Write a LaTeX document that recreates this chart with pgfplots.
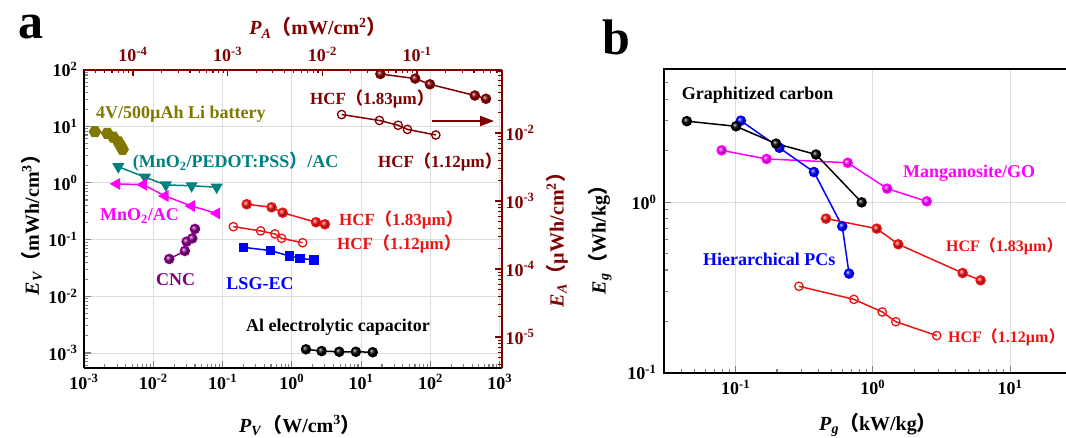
\documentclass[border=0pt]{standalone}
\usepackage{pgfplots}
\pgfplotsset{compat=1.18}
\usepackage{fontspec}
\setmainfont{Liberation Serif}
\newfontfamily\cjk{Noto Sans CJK SC}
\usetikzlibrary{arrows.meta}

\definecolor{olivec}{RGB}{128,120,0}
\definecolor{tealc}{RGB}{0,128,128}
\definecolor{purplec}{RGB}{128,0,128}
\definecolor{darkredc}{RGB}{128,0,0}
\definecolor{redc}{RGB}{235,20,20}
\definecolor{magc}{RGB}{255,0,255}
\definecolor{gridc}{RGB}{220,220,220}

\newcommand{\lp}{{\cjk （}}
\newcommand{\rp}{{\cjk ）}}
\newcommand{\rpn}{\makebox[0.45em][l]{\cjk ）}}
\newcommand{\fs}{\fontsize{18}{20}\selectfont\bfseries}
\newcommand{\fh}{\fontsize{17}{20}\selectfont\bfseries}
\newcommand{\fhb}{\fontsize{16}{20}\selectfont\bfseries}
\newcommand{\fl}{\fontsize{20}{22}\selectfont\bfseries}

\pgfdeclareplotmark{hexagon*}{%
  \pgfpathmoveto{\pgfpointpolar{0}{\pgfplotmarksize}}%
  \pgfpathlineto{\pgfpointpolar{60}{\pgfplotmarksize}}%
  \pgfpathlineto{\pgfpointpolar{120}{\pgfplotmarksize}}%
  \pgfpathlineto{\pgfpointpolar{180}{\pgfplotmarksize}}%
  \pgfpathlineto{\pgfpointpolar{240}{\pgfplotmarksize}}%
  \pgfpathlineto{\pgfpointpolar{300}{\pgfplotmarksize}}%
  \pgfpathclose\pgfusepathqfillstroke}

\pgfplotsset{
  log basis x=10, log basis y=10,
  scale only axis,
  tick align=inside,
  major tick length=7pt, minor tick length=4pt,
  tick style={line width=1.1pt},
  tick label style={font=\fs},
  xticklabel={\pgfmathtruncatemacro{\myexp}{round(\tick)}10\textsuperscript{\myexp}},
  yticklabel={\pgfmathtruncatemacro{\myexp}{round(\tick)}10\textsuperscript{\myexp}},
  axis line style={line width=2pt},
  every axis plot/.append style={line width=1.5pt},
}

\begin{document}
\begin{tikzpicture}[x=1pt,y=1pt]
\useasboundingbox (0,0) rectangle (1066,437);
\clip (0,0) rectangle (1066,437);

% ---------- panel a: bottom / left axes ----------
\begin{loglogaxis}[anchor=south west, at={(84pt,69pt)}, width=418pt, height=298.5pt,
  xmin=1e-3, xmax=1080, ymin=5.43e-4, ymax=100,
  axis x line*=bottom, axis y line*=left,
  xticklabel style={yshift=-3pt}, yticklabel style={xshift=-3pt},
  grid=major, major grid style={gridc, line width=0.8pt},
]
\addplot[color=olivec, mark=hexagon*, mark size=5.5pt] coordinates {
 (1.44e-3,8.0) (2.17e-3,7.5) (2.65e-3,6.4) (3.13e-3,5.3) (3.39e-3,4.5) (3.61e-3,3.9)};
\addplot[color=tealc, mark=triangle*, mark size=5.5pt, mark options={rotate=180}] coordinates {
 (3.13e-3,1.93) (7.6e-3,1.26) (0.0152,0.92) (0.0358,0.89) (0.0822,0.84)};
\addplot[color=magc, mark=triangle*, mark size=5.5pt, mark options={rotate=90}] coordinates {
 (2.97e-3,0.96) (7.2e-3,0.93) (0.0148,0.587) (0.0358,0.39) (0.0822,0.29)};
\addplot[color=purplec, mark=ball, mark size=4.5pt, mark options={ball color=purplec}] coordinates {
 (0.017,0.0455) (0.0286,0.063) (0.0303,0.092) (0.0366,0.105) (0.04,0.154)};
\addplot[color=redc, mark=ball, mark size=4.5pt, mark options={ball color=redc}] coordinates {
 (0.223,0.42) (0.51,0.371) (0.736,0.298) (2.23,0.202) (3.0,0.186)};
\addplot[color=redc, mark=o, mark size=4.2pt, mark options={fill=white, line width=1.3pt}] coordinates {
 (0.143,0.169) (0.355,0.142) (0.57,0.126) (0.713,0.105) (1.43,0.088)};
\addplot[color=blue, mark=square*, mark size=4pt] coordinates {
 (0.199,0.073) (0.494,0.064) (0.918,0.0514) (1.31,0.0468) (2.08,0.0437)};
\addplot[color=black, mark=ball, mark size=4.5pt, mark options={ball color=black}] coordinates {
 (1.6,1.16e-3) (2.69,1.08e-3) (4.83,1.05e-3) (8.4,1.05e-3) (14.7,1.03e-3)};
\end{loglogaxis}

% ---------- panel a: top / right axes ----------
\begin{loglogaxis}[anchor=south west, at={(84pt,69pt)}, width=418pt, height=298.5pt,
  xmin=3.04e-5, xmax=0.79, ymin=3.5e-6, ymax=0.0859,
  axis x line*=top, axis y line*=right,
  xticklabel style={yshift=4pt},
  axis line style={darkredc, line width=2pt},
  tick style={darkredc, line width=1.1pt},
  tick label style={text=darkredc},
]
\addplot[color=darkredc, mark=ball, mark size=4.5pt, mark options={ball color=darkredc}] coordinates {
 (0.0411,0.0738) (0.0957,0.0632) (0.1368,0.052) (0.408,0.0356) (0.535,0.0319)};
\addplot[color=darkredc, mark=o, mark size=4.2pt, mark options={fill=white, line width=1.3pt}] coordinates {
 (0.016,0.0187) (0.0401,0.0153) (0.0632,0.013) (0.0793,0.0113) (0.158,0.00935)};
\end{loglogaxis}

% ---------- panel b ----------
\begin{loglogaxis}[anchor=south west, at={(664pt,64.3pt)}, width=411.5pt, height=303.4pt,
  xmin=0.03, xmax=30, ymin=0.1, ymax=6,
  tick pos=left,
  xticklabel style={yshift=-4pt}, yticklabel style={xshift=-4pt},
  grid=major, major grid style={gridc, line width=0.8pt},
]
\addplot[color=magc, mark=ball, mark size=4.5pt, mark options={ball color=magc}] coordinates {
 (0.079,2.01) (0.168,1.79) (0.655,1.70) (1.27,1.20) (2.47,1.01)};
\addplot[color=blue, mark=ball, mark size=4.5pt, mark options={ball color=blue}] coordinates {
 (0.109,3.0) (0.208,2.08) (0.372,1.50) (0.598,0.721) (0.67,0.381)};
\addplot[color=black, mark=ball, mark size=4.5pt, mark options={ball color=black}] coordinates {
 (0.044,2.98) (0.1005,2.78) (0.197,2.2) (0.385,1.90) (0.828,0.996)};
\addplot[color=redc, mark=ball, mark size=4.5pt, mark options={ball color=redc}] coordinates {
 (0.455,0.80) (1.066,0.699) (1.53,0.566) (4.51,0.384) (6.1,0.348)};
\addplot[color=redc, mark=o, mark size=4.2pt, mark options={fill=white, line width=1.3pt}] coordinates {
 (0.289,0.321) (0.728,0.269) (1.17,0.227) (1.47,0.199) (2.92,0.165)};
\end{loglogaxis}

% ---------- annotations ----------
\draw[darkredc, line width=2pt, -{Triangle[length=14pt,width=10pt]}] (431.7,316) -- (494,316);

\node[anchor=base west, inner sep=0, font=\fontsize{50}{50}\selectfont\bfseries] at (18,398) {a};
\node[anchor=base west, inner sep=0, font=\fontsize{50}{50}\selectfont\bfseries] at (602,382) {b};

\node[anchor=base west, inner sep=0, font=\fs, text=olivec] at (96,318) {4V/500\textmu Ah Li battery};
\node[anchor=base west, inner sep=0, font=\fs, text=tealc] at (132.6,269.3) {(MnO\textsubscript{2}/PEDOT:PSS\rp/AC};
\node[anchor=base west, inner sep=0, font=\fs, text=magc] at (99.9,216) {MnO\textsubscript{2}/AC};
\node[anchor=base, inner sep=0, font=\fs, text=purplec] at (175.6,151.7) {CNC};
\node[anchor=base, inner sep=0, font=\fs, text=blue] at (260,147) {LSG-EC};
\node[anchor=base, inner sep=0, font=\fh, text=redc] at (401,211) {HCF\lp1.83\textmu m\rp};
\node[anchor=base, inner sep=0, font=\fh, text=redc] at (399,187.7) {HCF\lp1.12\textmu m\rp};
\node[anchor=base, inner sep=0, font=\fs, text=black] at (338,106) {Al electrolytic capacitor};
\node[anchor=base, inner sep=0, font=\fh, text=darkredc] at (372,332.7) {HCF\lp1.83\textmu m\rp};
\node[anchor=base, inner sep=0, font=\fh, text=darkredc] at (440,269.3) {HCF\lp1.12\textmu m\rp};

\node[anchor=base, inner sep=0, font=\fl] at (300,5) {\textit{P}\textsubscript{\textit{V}}\lp W/cm\textsuperscript{3}\rp};
\node[anchor=base, inner sep=0, font=\fl, text=darkredc] at (318,402) {\textit{P}\textsubscript{\textit{A}}\lp mW/cm\textsuperscript{2}\rp};
\node[rotate=90, inner sep=0, font=\fl] at (32,217) {\textit{E}\textsubscript{\textit{V}}\lp mWh/cm\textsuperscript{3}\rp};
\node[rotate=90, inner sep=0, font=\fl, text=darkredc] at (557,202) {\textit{E}\textsubscript{\textit{A}}\lp \textmu Wh/cm\textsuperscript{2}\rp};

\node[anchor=base west, inner sep=0, font=\fs] at (681.7,337.7) {Graphitized carbon};
\node[anchor=base west, inner sep=0, font=\fs, text=magc] at (903,259.3) {Manganosite/GO};
\node[anchor=base west, inner sep=0, font=\fs, text=blue] at (703,171.7) {Hierarchical PCs};
\node[anchor=base west, inner sep=0, font=\fhb, text=redc] at (946,185) {HCF\lp1.83\textmu m\rpn};
\node[anchor=base west, inner sep=0, font=\fhb, text=redc] at (948,94.3) {HCF\lp1.12\textmu m\rpn};

\node[anchor=base, inner sep=0, font=\fl] at (878,7) {\textit{P}\textsubscript{\textit{g}}\lp kW/kg\rp};
\node[rotate=90, inner sep=0, font=\fl] at (600,202) {\textit{E}\textsubscript{\textit{g}}\lp Wh/kg\rp};
\end{tikzpicture}
\end{document}
